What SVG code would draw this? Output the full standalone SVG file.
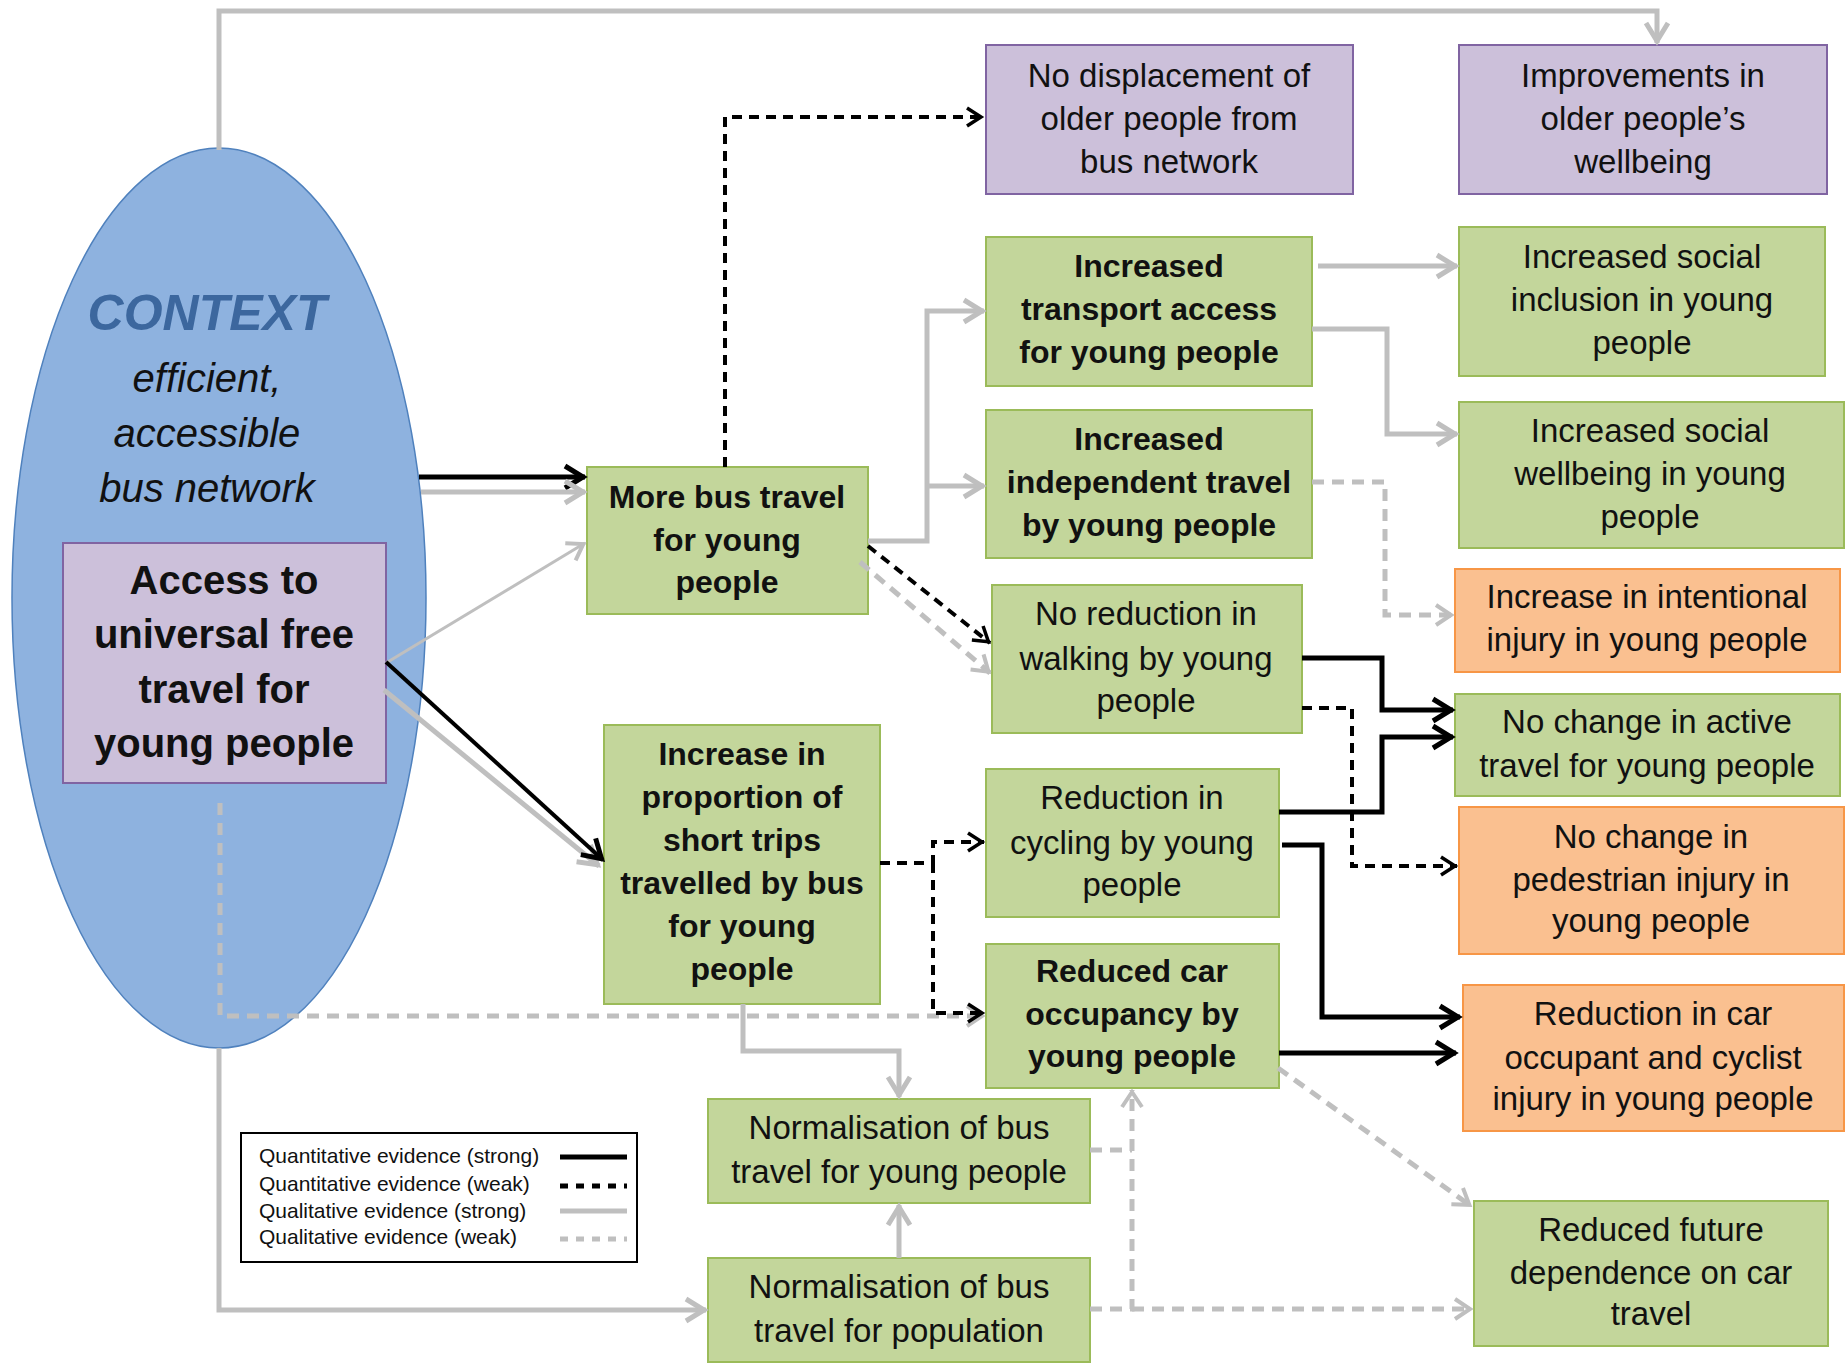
<svg xmlns="http://www.w3.org/2000/svg" width="1845" height="1369" viewBox="0 0 1845 1369">
<style>
text{font-family:"Liberation Sans",Arial,sans-serif;fill:#111;text-anchor:middle;font-size:33px}
.b{font-weight:bold;font-size:32px}
.g rect{fill:#C3D69B;stroke:#9BBB59;stroke-width:2}
.p rect{fill:#CCC0DA;stroke:#8064A2;stroke-width:2}
.o rect{fill:#FAC090;stroke:#F79646;stroke-width:2}
.qs{fill:none;stroke:#000;stroke-width:5}
.qw{fill:none;stroke:#000;stroke-width:4;stroke-dasharray:10 7}
.ls{fill:none;stroke:#BFBFBF;stroke-width:5}
.lw{fill:none;stroke:#BFBFBF;stroke-width:5;stroke-dasharray:12 8}
.leg{text-anchor:start;font-size:21px}
</style>
<defs>
<marker id="ab" markerUnits="userSpaceOnUse" markerWidth="34" markerHeight="34" viewBox="0 0 34 34" refX="29" refY="17" orient="auto" overflow="visible"><path d="M9,6 L27,17 L9,28" fill="none" stroke="#000" stroke-width="5"/></marker>
<marker id="abw" markerUnits="userSpaceOnUse" markerWidth="30" markerHeight="30" viewBox="0 0 30 30" refX="26" refY="15" orient="auto" overflow="visible"><path d="M10,6 L24,15 L10,24" fill="none" stroke="#000" stroke-width="3.5"/></marker>
<marker id="ag" markerUnits="userSpaceOnUse" markerWidth="34" markerHeight="34" viewBox="0 0 34 34" refX="29" refY="17" orient="auto" overflow="visible"><path d="M9,6 L27,17 L9,28" fill="none" stroke="#BFBFBF" stroke-width="5"/></marker>
<marker id="agw" markerUnits="userSpaceOnUse" markerWidth="30" markerHeight="30" viewBox="0 0 30 30" refX="26" refY="15" orient="auto" overflow="visible"><path d="M9,5 L24,15 L9,25" fill="none" stroke="#BFBFBF" stroke-width="4"/></marker>
</defs>

<g id="context">
<ellipse cx="219" cy="598" rx="207" ry="450" fill="#8EB2DF" stroke="#4F81BD" stroke-width="1.5"/>
<text x="207" y="330" style="font-weight:bold;font-style:italic;font-size:50px;fill:#3C679E">CONTEXT</text>
<text x="207" y="392" style="font-style:italic;font-size:40px">efficient,</text>
<text x="207" y="447" style="font-style:italic;font-size:40px">accessible</text>
<text x="207" y="502" style="font-style:italic;font-size:40px">bus network</text>
</g>
<g id="access" class="p">
<rect x="63" y="543" width="323" height="240"/>
<text class="b" style="font-size:40px" x="224" y="594">Access to</text>
<text class="b" style="font-size:40px" x="224" y="648">universal free</text>
<text class="b" style="font-size:40px" x="224" y="703">travel for</text>
<text class="b" style="font-size:40px" x="224" y="757">young people</text>
</g>
<g id="no-displacement" class="p">
<rect x="986" y="45" width="367" height="149"/>
<text x="1169" y="87">No displacement of</text>
<text x="1169" y="130">older people from</text>
<text x="1169" y="173">bus network</text>
</g>
<g id="improvements" class="p">
<rect x="1459" y="45" width="368" height="149"/>
<text x="1643" y="87">Improvements in</text>
<text x="1643" y="130">older people’s</text>
<text x="1643" y="173">wellbeing</text>
</g>
<g id="transport-access" class="g">
<rect x="986" y="237" width="326" height="149"/>
<text class="b" x="1149" y="277">Increased</text>
<text class="b" x="1149" y="320">transport access</text>
<text class="b" x="1149" y="363">for young people</text>
</g>
<g id="social-inclusion" class="g">
<rect x="1459" y="227" width="366" height="149"/>
<text x="1642" y="268">Increased social</text>
<text x="1642" y="311">inclusion in young</text>
<text x="1642" y="354">people</text>
</g>
<g id="independent-travel" class="g">
<rect x="986" y="410" width="326" height="148"/>
<text class="b" x="1149" y="450">Increased</text>
<text class="b" x="1149" y="493">independent travel</text>
<text class="b" x="1149" y="536">by young people</text>
</g>
<g id="social-wellbeing" class="g">
<rect x="1459" y="402" width="385" height="146"/>
<text x="1650" y="442">Increased social</text>
<text x="1650" y="485">wellbeing in young</text>
<text x="1650" y="528">people</text>
</g>
<g id="more-bus-travel" class="g">
<rect x="587" y="467" width="281" height="147"/>
<text class="b" x="727" y="508">More bus travel</text>
<text class="b" x="727" y="551">for young</text>
<text class="b" x="727" y="593">people</text>
</g>
<g id="no-reduction-walking" class="g">
<rect x="992" y="585" width="310" height="148"/>
<text x="1146" y="625">No reduction in</text>
<text x="1146" y="670">walking by young</text>
<text x="1146" y="712">people</text>
</g>
<g id="intentional-injury" class="o">
<rect x="1455" y="569" width="385" height="103"/>
<text x="1647" y="608">Increase in intentional</text>
<text x="1647" y="651">injury in young people</text>
</g>
<g id="no-change-active" class="g">
<rect x="1455" y="694" width="385" height="102"/>
<text x="1647" y="733">No change in active</text>
<text x="1647" y="777">travel for young people</text>
</g>
<g id="short-trips" class="g">
<rect x="604" y="725" width="276" height="279"/>
<text class="b" x="742" y="765">Increase in</text>
<text class="b" x="742" y="808">proportion of</text>
<text class="b" x="742" y="851">short trips</text>
<text class="b" x="742" y="894">travelled by bus</text>
<text class="b" x="742" y="937">for young</text>
<text class="b" x="742" y="980">people</text>
</g>
<g id="reduction-cycling" class="g">
<rect x="986" y="769" width="293" height="148"/>
<text x="1132" y="809">Reduction in</text>
<text x="1132" y="854">cycling by young</text>
<text x="1132" y="896">people</text>
</g>
<g id="pedestrian-injury" class="o">
<rect x="1459" y="807" width="385" height="147"/>
<text x="1651" y="848">No change in</text>
<text x="1651" y="891">pedestrian injury in</text>
<text x="1651" y="932">young people</text>
</g>
<g id="car-occupancy" class="g">
<rect x="986" y="944" width="293" height="144"/>
<text class="b" x="1132" y="982">Reduced car</text>
<text class="b" x="1132" y="1025">occupancy by</text>
<text class="b" x="1132" y="1067">young people</text>
</g>
<g id="car-injury" class="o">
<rect x="1463" y="985" width="381" height="146"/>
<text x="1653" y="1025">Reduction in  car</text>
<text x="1653" y="1069">occupant and cyclist</text>
<text x="1653" y="1110">injury in young people</text>
</g>
<g id="norm-young" class="g">
<rect x="708" y="1099" width="382" height="104"/>
<text x="899" y="1139">Normalisation of bus</text>
<text x="899" y="1183">travel for young people</text>
</g>
<g id="norm-pop" class="g">
<rect x="708" y="1258" width="382" height="104"/>
<text x="899" y="1298">Normalisation of bus</text>
<text x="899" y="1342">travel for population</text>
</g>
<g id="future-dependence" class="g">
<rect x="1474" y="1201" width="354" height="145"/>
<text x="1651" y="1241">Reduced future</text>
<text x="1651" y="1284">dependence on car</text>
<text x="1651" y="1325">travel</text>
</g>

<g id="connectors">
<path class="ls" d="M219,150 V11 H1657 V43" marker-end="url(#ag)"/>
<path class="qs" d="M419,477 H585" marker-end="url(#ab)"/>
<path class="ls" d="M421,492 H585" marker-end="url(#ag)"/>
<path class="ls" style="stroke-width:3" d="M386,663 L585,543" marker-end="url(#agw)"/>
<path class="ls" d="M384,690 L599,866" marker-end="url(#ag)"/>
<path class="qs" style="stroke-width:4" d="M386,662 L603,860" marker-end="url(#ab)"/>
<path class="qw" d="M725,467 V117 H983" marker-end="url(#abw)"/>
<path class="ls" d="M868,541 H927 V311 H984" marker-end="url(#ag)"/>
<path class="ls" d="M927,486 H984" marker-end="url(#ag)"/>
<path class="lw" d="M860,562 L990,673" marker-end="url(#agw)"/>
<path class="qw" d="M868,546 L990,643" marker-end="url(#abw)"/>
<path class="ls" d="M1318,266 H1457" marker-end="url(#ag)"/>
<path class="ls" d="M1312,329 H1387 V434 H1457" marker-end="url(#ag)"/>
<path class="lw" d="M1312,482 H1385 V615 H1453" marker-end="url(#agw)"/>
<path class="qs" d="M1302,658 H1382 V710 H1453" marker-end="url(#ab)"/>
<path class="qw" d="M1302,708 H1352 V866 H1457" marker-end="url(#abw)"/>
<path class="qs" d="M1279,812 H1382 V737 H1453" marker-end="url(#ab)"/>
<path class="qs" d="M1282,845 H1322 V1017 H1460" marker-end="url(#ab)"/>
<path class="qs" d="M1279,1053 H1456" marker-end="url(#ab)"/>
<path class="lw" d="M1278,1068 L1471,1206" marker-end="url(#agw)"/>
<path class="lw" d="M220,803 V1016 H984" marker-end="url(#agw)"/>
<path class="qw" d="M880,863 H933 V842 H984" marker-end="url(#abw)"/>
<path class="qw" d="M933,863 V1013 H984" marker-end="url(#abw)"/>
<path class="ls" d="M743,1004 V1051 H899 V1097" marker-end="url(#ag)"/>
<path class="ls" d="M899,1258 V1205" marker-end="url(#ag)"/>
<path class="ls" d="M219,1048 V1310 H706" marker-end="url(#ag)"/>
<path class="lw" d="M1090,1150 H1132"/>
<path class="lw" d="M1090,1309 H1132 V1090" marker-end="url(#agw)"/>
<path class="lw" d="M1132,1309 H1472" marker-end="url(#agw)"/>
</g>

<g id="legend">
<rect x="241" y="1133" width="396" height="129" fill="#fff" stroke="#000" stroke-width="2"/>
<text class="leg" x="259" y="1163">Quantitative evidence (strong)</text>
<text class="leg" x="259" y="1191">Quantitative evidence (weak)</text>
<text class="leg" x="259" y="1218">Qualitative evidence (strong)</text>
<text class="leg" x="259" y="1244">Qualitative evidence (weak)</text>
<path class="qs" d="M560,1157 H627"/>
<path class="qw" style="stroke-width:5;stroke-dasharray:8 8" d="M560,1186 H627"/>
<path class="ls" d="M560,1211 H627"/>
<path class="lw" style="stroke-dasharray:8 8" d="M560,1239 H627"/>
</g>
</svg>
